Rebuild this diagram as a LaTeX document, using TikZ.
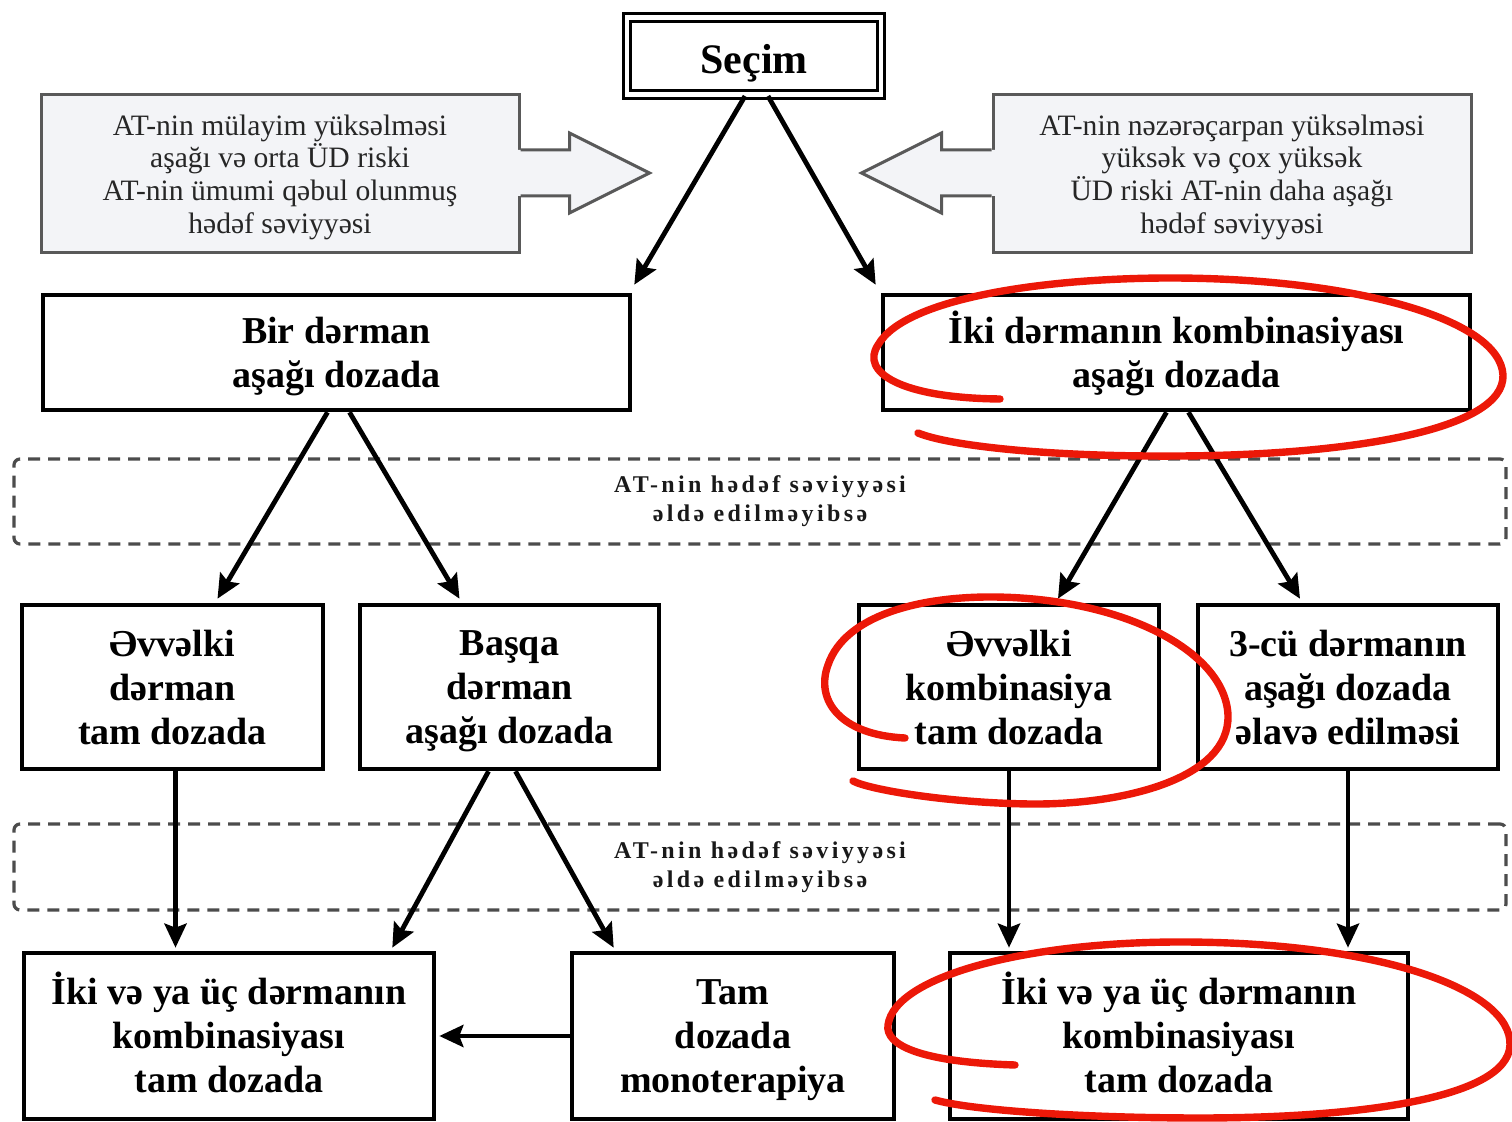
\documentclass[tikz,border=0pt]{standalone}
\usepackage{fontspec}
\setmainfont{Liberation Serif}
\newfontfamily\spacedserif[LetterSpace=14]{Liberation Serif}
\usetikzlibrary{arrows,arrows.meta,calc}

\definecolor{notegray}{HTML}{F3F4F7}
\definecolor{penred}{RGB}{236,24,8}

\begin{document}
\begin{tikzpicture}[x=0.5pt,y=-0.5pt,>={Stealth[length=12pt,width=11pt,inset=2pt]},line width=2.4pt]
      \tikzstyle{box}=[draw=black,line width=2.3pt,align=center,inner sep=0pt,text depth=0pt,
                       font=\bfseries\fontsize{19}{22}\selectfont]
      \tikzstyle{note}=[align=center,inner sep=0pt,text=black!85,text depth=0pt,
                        font=\fontsize{14.8}{16.3}\selectfont]
      \tikzstyle{notefill}=[fill=notegray]
      \tikzstyle{noteline}=[draw=black!65,line width=1.5pt]
      \tikzstyle{goal}=[draw=black!70,dashed,dash pattern=on 6pt off 4pt,line width=1.6pt,
                        rounded corners=3pt,align=center,inner sep=0pt,text=black!90,
                        font=\spacedserif\bfseries\fontsize{12}{14.5}\selectfont]
      \tikzstyle{pen}=[draw=penred,line width=3.7pt,line cap=round]

      \useasboundingbox (0,0) rectangle (1512,1122);

      % top
      \node[draw,double,line width=1.6pt,double distance=2.2pt,minimum width=127pt,
            minimum height=38.5pt,text height=22pt,font=\bfseries\fontsize{21}{24}\selectfont]
            (sec) at (754,56) {Seçim};

      \node[note,notefill,noteline,minimum width=239pt,minimum height=79pt]
            (lt) at (280,174) {AT-nin mülayim yüksəlməsi\\aşağı və orta ÜD riski\\AT-nin ümumi qəbul olunmuş\\hədəf səviyyəsi};
      \node[note,notefill,noteline,minimum width=239pt,minimum height=79pt]
            (rt) at (1232,174) {AT-nin nəzərəçarpan yüksəlməsi\\yüksək və çox yüksək\\ÜD riski AT-nin daha aşağı\\hədəf səviyyəsi};

      % callout arrows
      \fill[notefill] ([xshift=-2pt]lt.east) ++(0,-24) -- ++(53,0) -- ++(0,-17) -- ++(80,40)
            -- ++(-80,40) -- ++(0,-17) -- ++(-53,0) -- cycle;
      \draw[noteline,line join=miter] (lt.east) ++(0,-24) -- ++(49,0) -- ++(0,-17) -- ++(80,40)
            -- ++(-80,40) -- ++(0,-17) -- ++(-49,0);
      \fill[notefill] ([xshift=2pt]rt.west) ++(0,-24) -- ++(-54,0) -- ++(0,-17) -- ++(-80,40)
            -- ++(80,40) -- ++(0,-17) -- ++(54,0) -- cycle;
      \draw[noteline,line join=miter] (rt.west) ++(0,-24) -- ++(-50,0) -- ++(0,-17) -- ++(-80,40)
            -- ++(80,40) -- ++(0,-17) -- ++(50,0);

      % second row
      \node[box,minimum width=293.5pt,minimum height=57.5pt] (bir) at (336.5,352.5) {Bir dərman\\aşağı dozada};
      \node[box,text depth=3pt,minimum width=293.5pt,minimum height=57.5pt] (iki) at (1176.5,352.5) {İki dərmanın kombinasiyası\\aşağı dozada};

      \node[goal,minimum width=746pt,minimum height=42.5pt] (goal1) at (760,501.5) {AT-nin hədəf səviyyəsi\\əldə edilməyibsə};

      % third row
      \node[box,minimum width=150.5pt,minimum height=82pt] (evv1) at (172.5,687) {Əvvəlki\\dərman\\tam dozada};
      \node[box,minimum width=149.5pt,minimum height=82pt] (basqa) at (509.5,687) {Başqa\\dərman\\aşağı dozada};
      \node[box,minimum width=150pt,minimum height=82pt] (evv2) at (1009,687) {Əvvəlki\\kombinasiya\\tam dozada};
      \node[box,minimum width=150pt,minimum height=82pt] (ucu) at (1348,687) {3-cü dərmanın\\aşağı dozada\\əlavə edilməsi};

      \node[goal,minimum width=746pt,minimum height=43pt] (goal2) at (760,867) {AT-nin hədəf səviyyəsi\\əldə edilməyibsə};

      % fourth row
      \node[box,text depth=3.5pt,minimum width=205pt,minimum height=83pt] (tri1) at (229,1036) {İki və ya üç dərmanın\\kombinasiyası\\tam dozada};
      \node[box,minimum width=161pt,minimum height=83pt] (mono) at (733,1036) {Tam\\dozada\\monoterapiya};
      \node[box,text depth=3.5pt,minimum width=229pt,minimum height=83pt] (tri2) at (1179,1036) {İki və ya üç dərmanın\\kombinasiyası\\tam dozada};

      % connectors
      \draw[->] ([xshift=-4.5pt]sec.south) -- ([xshift=1pt,yshift=4pt]bir.north east);
      \draw[->] ([xshift=7pt]sec.south) -- ([xshift=-2.5pt,yshift=4pt]iki.north west);
      \draw[->] ([xshift=-4.5pt]bir.south) -- ([xshift=22.5pt,yshift=2pt]evv1.north);
      \draw[->] ([xshift=6.5pt]bir.south) -- ([xshift=-25pt,yshift=2pt]basqa.north);
      \draw[->] ([xshift=-5pt]iki.south) -- ([xshift=24.5pt,yshift=2pt]evv2.north);
      \draw[->] ([xshift=6pt]iki.south) -- ([xshift=-24pt,yshift=2pt]ucu.north);
      \draw[->] ([xshift=1.5pt]evv1.south) -- ($([xshift=1.5pt]evv1.south |- tri1.north)+(0,-3)$);
      \draw[->] ([xshift=-10.5pt]basqa.south) -- ([xshift=-22pt,yshift=1.5pt]tri1.north east);
      \draw[->] ([xshift=3pt]basqa.south) -- ([xshift=22pt,yshift=1.5pt]mono.north west);
      \draw[->] (evv2.south) -- ($(evv2.south |- tri2.north)+(0,-3)$);
      \draw[->] (ucu.south) -- ($(ucu.south |- tri2.north)+(0,-3)$);
      \draw[->] (mono.west) -- ([xshift=1.5pt]tri1.east);

      % red marks
      \draw[pen] (1000,399) .. controls (900,398) and (860,372) .. (878,345)
            .. controls (905,297) and (1050,278) .. (1170,278)
            .. controls (1350,278) and (1500,318) .. (1503,375)
            .. controls (1505,430) and (1350,455) .. (1180,456)
            .. controls (1050,457) and (950,446) .. (918,433);
      \draw[pen] (905,738) .. controls (840,735) and (815,700) .. (828,665)
            .. controls (845,615) and (920,597) .. (990,597)
            .. controls (1120,597) and (1225,650) .. (1228,715)
            .. controls (1230,780) and (1120,805) .. (1030,804)
            .. controls (950,803) and (870,790) .. (853,781);
      \draw[pen] (1015,1065) .. controls (920,1062) and (885,1045) .. (888,1025)
            .. controls (895,975) and (1030,942) .. (1180,942)
            .. controls (1380,942) and (1512,990) .. (1510,1045)
            .. controls (1508,1100) and (1350,1118) .. (1200,1118)
            .. controls (1080,1118) and (970,1110) .. (935,1100);
\end{tikzpicture}
\end{document}
